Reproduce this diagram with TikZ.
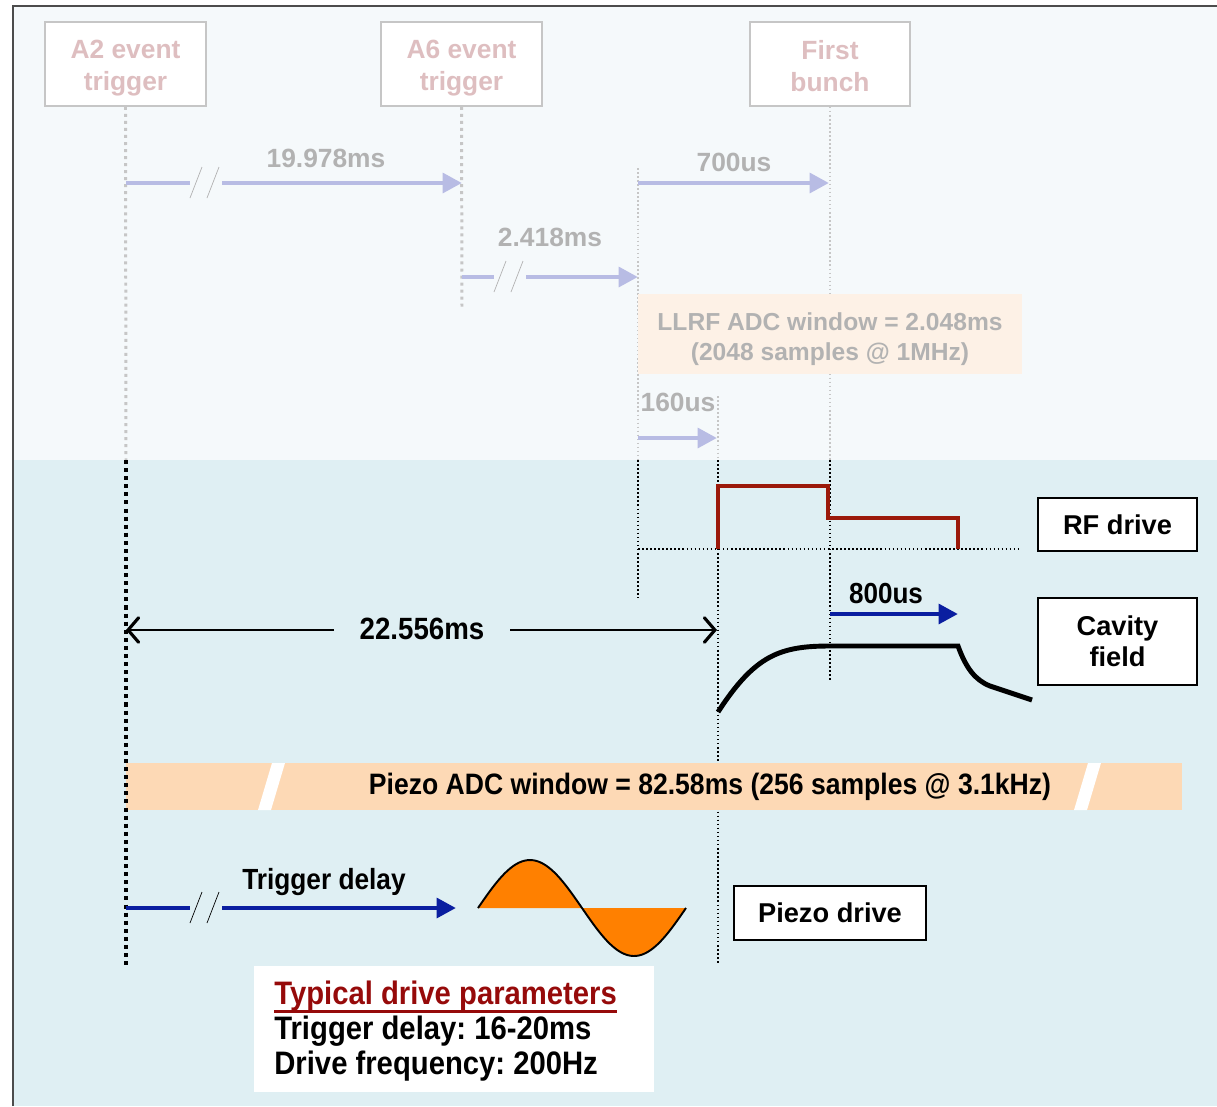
\documentclass[tikz,border=0pt]{standalone}
\usepackage{fontspec}
\setmainfont{Liberation Sans}
\newfontfamily\narrowsf[FakeStretch=0.9]{Liberation Sans}
\usetikzlibrary{arrows.meta}
\frenchspacing
\definecolor{toppane}{RGB}{245,249,251}
\definecolor{lowpane}{RGB}{223,239,243}
\definecolor{fadetxt}{RGB}{222,190,192}
\definecolor{fadegray}{RGB}{178,178,178}
\definecolor{fadeline}{RGB}{198,198,198}
\definecolor{fadearrow}{RGB}{184,188,228}
\definecolor{llrfbox}{RGB}{253,241,230}
\definecolor{rfred}{RGB}{155,25,10}
\definecolor{drvblue}{RGB}{10,30,160}
\definecolor{peach}{RGB}{253,217,181}
\definecolor{piezoorange}{RGB}{255,128,0}
\definecolor{titlered}{RGB}{150,10,10}
\newcommand{\fs}[1]{\fontsize{#1}{1.2\dimexpr#1pt\relax}\selectfont\bfseries}
% arrow with a // break: start, gap, end, y, arrow colour, slash colour
\newcommand{\cutarrow}[6]{%
\draw[#5,line width=2.8pt] (#1,#4) -- (#2,#4);
\draw[#5,line width=2.8pt,-{Triangle[length=11pt,width=11pt]}] (#2+32,#4) -- (#3,#4);
\draw[#6,thin] (#2,#4+15) -- (#2+12,#4-16);
\draw[#6,thin] (#2+17,#4+15) -- (#2+29,#4-16);}

\begin{document}
\begin{tikzpicture}[x=0.02cm,y=-0.02cm,
  fadebox/.style={draw=fadeline,line width=1pt,fill=white,minimum width=3.22cm,minimum height=1.68cm},
  fadetext/.style={text=fadetxt,align=center,font=\fs{15}},
  namebox/.style={draw=black,line width=1.1pt,fill=white,align=center,font=\fs{15.5},minimum width=3.18cm},
  thindot/.style={line width=0.7pt,dash pattern=on 0.9pt off 1.4pt},
  fadedot/.style={fadeline,line width=1.7pt,dash pattern=on 1.7pt off 2.3pt},
  fadethin/.style={fadeline,line width=0.7pt,dash pattern=on 0.9pt off 1.4pt},
  spanarrow/.style={line width=1.3pt,-{Straight Barb[length=6pt,width=14pt,line width=1.8pt,line cap=round]}}]
\useasboundingbox (0,0) rectangle (1217,1106);
% ---- panes ----
\fill[white] (0,0) rectangle (1217,1106);
\fill[toppane] (13,6) rectangle (1217,460);
\fill[lowpane] (13,460) rectangle (1217,1106);
\draw[black!70,line width=1.2pt] (13,1106) -- (13,6) -- (1217,6);
% ---- event boxes (faded part) ----
\node[fadebox] (a2) at (125.5,64) {};
\node[fadetext] (a2txt) at (125.5,68) {A2 event\\trigger};
\node[fadebox] (a6) at (461.5,64) {};
\node[fadetext] (a6txt) at (461.5,68) {A6 event\\trigger};
\node[fadebox,minimum width=3.2cm] (bunch) at (830,64) {};
\node[fadetext] (bunchtxt) at (830,66) {First\\bunch};
\draw[fadedot] (a2.south) -- (126,460);
\draw[fadedot] (a6.south) -- (462,310);
\draw[fadethin] (bunch.south) -- (830,460);
\draw[fadethin] (638,168) -- (638,460);
\draw[fadethin] (718,396) -- (718,460);
\cutarrow{126}{190}{462}{183}{fadearrow}{fadegray}
\node[text=fadegray,font=\fs{15}] (t19) at (326,158) {19.978ms};
\cutarrow{462}{494}{638}{277}{fadearrow}{fadegray}
\node[text=fadegray,font=\fs{15}] (t24) at (550,237) {2.418ms};
\draw[fadearrow,line width=2.8pt,-{Triangle[length=11pt,width=11pt]}] (638,183) -- (829,183);
\node[text=fadegray,font=\fs{15}] (t700) at (734,162) {700us};
\node[fill=llrfbox,minimum width=7.68cm,minimum height=1.6cm] (llrf) at (830,334) {};
\node[text=fadegray,align=center,font=\fontsize{14}{17}\selectfont\bfseries] (llrftxt) at (830,339) {LLRF ADC window = 2.048ms\\(2048 samples @ 1MHz)};
\draw[fadearrow,line width=2.8pt,-{Triangle[length=11pt,width=11pt]}] (638,438) -- (717,438);
\node[text=fadegray,font=\fs{15}] (t160) at (678,402) {160us};
% ---- timing lines ----
\draw[thindot] (638,460) -- (638,598);
\draw[thindot] (718,460) -- (718,965);
\draw[thindot] (830,460) -- (830,680);
\draw[thindot] (638,549) -- (1020,549);
% rf drive pulse
\draw[rfred,line width=2.4pt] (718,549) -- (718,486) -- (828,486) -- (828,518) -- (958,518) -- (958,549);
\node[namebox,minimum height=1.06cm] (rf) at (1117.5,524.5) {RF drive};
% cavity field
\draw[line width=2.8pt] (718,712) .. controls (755,655) and (780,646) .. (830,646) -- (958,646)
  .. controls (966,668) and (975,680) .. (990,686) -- (1032,700);
\node[namebox,minimum height=1.74cm,font=\fontsize{15.5}{17.6}\selectfont\bfseries] (cav) at (1117.5,641.5) {Cavity\\field};
\draw[drvblue,line width=2.8pt,-{Triangle[length=11pt,width=11pt]}] (830,614) -- (958,614);
\node[font=\narrowsf\fs{16.5}] (t800) at (886,594) {800us};
% total delay
\coordinate (dl) at (126,630);
\coordinate (dr) at (717,630);
\node[font=\narrowsf\fs{17.5}] (t22) at (422,629) {22.556ms};
\coordinate (gl) at (334,630);
\coordinate (gr) at (510,630);
\draw[spanarrow] (gl) -- (dl);
\draw[spanarrow] (gr) -- (dr);
% piezo adc window
\fill[peach] (126,763) rectangle (1182,810);
\fill[white] (272,763) -- (285,763) -- (271,810) -- (258,810) -- cycle;
\fill[white] (1088,763) -- (1101,763) -- (1087,810) -- (1074,810) -- cycle;
\node[font=\narrowsf\fs{16.8}] (adc) at (710,787) {Piezo ADC window = 82.58ms (256 samples @ 3.1kHz)};
\draw[line width=2.3pt,dash pattern=on 2.3pt off 2.3pt] (126,460) -- (126,965);
% piezo drive
\cutarrow{126}{190}{456}{908}{drvblue}{black}
\node[font=\narrowsf\fs{16.6}] (tdel) at (324,882) {Trigger delay};
\fill[piezoorange] plot[domain=0:360,samples=72] ({478+\x/360*208},{908-48*sin(\x)}) -- cycle;
\draw[line width=1.1pt] plot[domain=0:360,samples=72] ({478+\x/360*208},{908-48*sin(\x)});
\node[namebox,minimum width=3.84cm,minimum height=1.08cm] (pz) at (830,913) {Piezo drive};
% typical parameters
\node[fill=white,minimum width=8cm,minimum height=2.52cm] (par) at (454,1029) {};
\node[anchor=west,inner sep=0pt,text=titlered,font=\narrowsf\fs{18.5}] (ptitle) at (274,996) {Typical drive parameters};
\draw[titlered,line width=1.7pt] ([yshift=-4pt]ptitle.base west) -- ([yshift=-4pt]ptitle.base east);
\node[anchor=west,inner sep=0pt,font=\narrowsf\fs{18.5}] (pdel) at (274,1031) {Trigger delay: 16-20ms};
\node[anchor=west,inner sep=0pt,font=\narrowsf\fs{18.5}] (pfrq) at (274,1066) {Drive frequency: 200Hz};
\end{tikzpicture}
\end{document}
